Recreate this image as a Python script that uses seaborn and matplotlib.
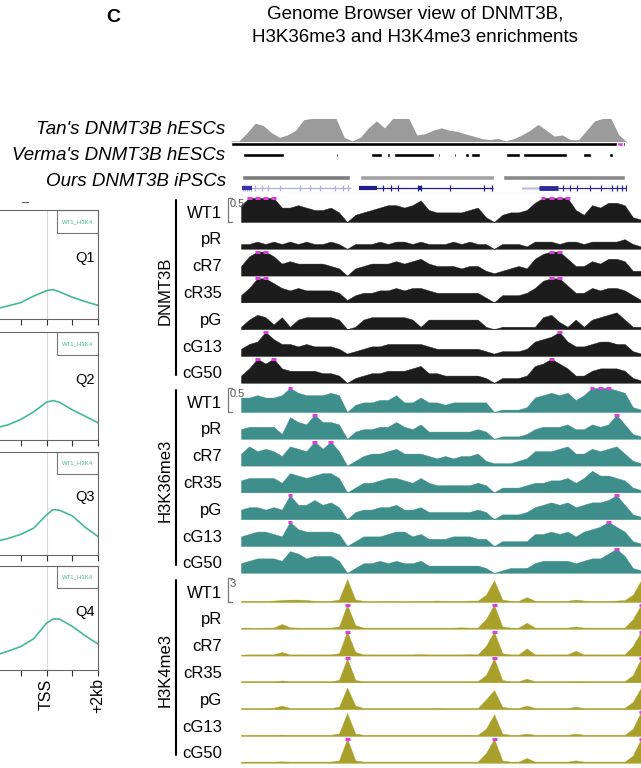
import numpy as np
import pandas as pd
import seaborn as sns
import matplotlib.pyplot as plt
from matplotlib.lines import Line2D
from matplotlib.patches import Rectangle

# ---------------- data ----------------
# left panel: WT1 H3K4me3 profile around TSS, per quartile
BP = [-2000, -1500, -1000, -500, 0, 250, 500, 1000, 1500, 2000]
Q1 = [0.09, 0.12, 0.15, 0.21, 0.26, 0.27, 0.25, 0.20, 0.16, 0.125]
Q2 = [0.11, 0.14, 0.19, 0.26, 0.35, 0.365, 0.35, 0.28, 0.22, 0.16]
Q3 = [0.13, 0.16, 0.20, 0.26, 0.39, 0.44, 0.435, 0.38, 0.27, 0.18]
Q4 = [0.14, 0.18, 0.225, 0.30, 0.45, 0.49, 0.49, 0.42, 0.33, 0.25]
QUARTILES = ["Q1", "Q2", "Q3", "Q4"]

# browser tracks, 50 bins across the locus, height in tenths of the scale max
DNMT3B_WT1 = [7,10,10,10,10,6,6,7,6,5, 5,6,4,0,3,4,5,6,7,7, 6,7,9,5,4,4,4,4,5,6, 2,0,3,4,4,5,8,10,10,10, 10,5,3,7,6,8,8,7,2,1]
DNMT3B_pR = [2,2,3,2,3,2,3,2,3,2, 2,3,2,0,2,2,2,3,2,3, 3,2,3,2,2,2,3,2,3,2, 2,0,2,2,2,1,3,3,3,2, 3,3,2,3,3,3,3,4,2,1]
DNMT3B_cR7 = [4,8,10,10,8,5,6,5,5,5, 5,4,3,0,3,4,5,5,5,6, 5,6,7,5,4,4,4,3,4,4, 2,1,2,3,4,3,7,9,10,10, 7,4,4,6,5,7,7,6,2,2]
DNMT3B_cR35 = [3,6,10,10,8,6,5,6,5,5, 5,5,4,1,3,4,4,5,5,6, 5,6,6,5,4,4,4,4,4,4, 2,0,3,3,3,4,6,9,10,10, 7,4,4,6,5,6,6,5,3,1]
DNMT3B_pG = [1,4,6,5,2,5,1,4,5,5, 5,5,4,0,1,4,5,5,5,5, 5,4,1,4,4,4,4,4,4,4, 1,0,1,1,1,1,1,5,6,3, 1,4,1,4,5,6,7,4,1,1]
DNMT3B_cG13 = [3,5,6,10,7,5,5,4,5,4, 4,4,3,1,2,3,4,4,5,5, 5,5,5,4,3,3,3,3,3,3, 2,1,2,2,2,3,6,7,8,10, 6,4,4,5,6,6,5,5,2,1]
DNMT3B_cG50 = [3,6,10,8,10,6,5,5,5,5, 4,4,3,0,2,3,4,4,5,5, 5,6,7,4,4,3,3,3,3,3, 2,0,2,2,2,3,7,8,10,8, 6,3,3,5,6,6,6,5,2,1]

H3K36_WT1 = [6,6,7,6,6,7,10,8,7,7, 7,8,7,0,3,4,4,5,5,7, 4,4,6,4,4,3,4,4,4,4, 4,0,1,1,1,2,6,7,8,7, 8,5,7,10,10,10,9,8,2,1]
H3K36_pR = [4,5,5,5,5,2,9,7,6,10, 7,7,6,0,3,4,4,5,5,7, 5,4,6,3,3,3,3,3,3,4, 3,0,1,1,1,2,4,5,5,5, 6,4,4,6,5,6,10,6,2,1]
H3K36_cR7 = [5,8,6,7,6,4,8,7,6,10, 7,10,6,0,2,4,5,5,6,7, 5,5,5,4,3,4,3,4,4,5, 2,1,1,1,2,3,6,6,6,7, 8,5,5,7,6,7,8,5,2,1]
H3K36_cR35 = [5,6,6,6,6,4,8,7,6,7, 8,8,6,0,2,4,4,5,6,6, 5,4,6,4,3,3,3,3,3,4, 3,0,2,2,2,3,4,4,5,5, 6,4,6,9,7,7,6,5,2,1]
H3K36_pG = [4,5,5,4,5,4,10,6,6,8, 6,7,5,0,3,4,4,5,5,6, 4,4,5,3,3,3,3,3,3,4, 3,0,2,2,2,3,5,6,7,6, 7,5,6,7,7,8,10,6,2,1]
H3K36_cG13 = [4,5,6,6,5,4,10,7,6,6, 6,6,5,0,2,4,4,4,5,6, 6,4,5,3,3,3,4,4,4,3, 3,0,2,2,2,2,5,5,6,5, 6,4,6,7,8,10,8,6,2,1]
H3K36_cG50 = [4,5,6,6,6,5,9,8,6,7, 7,7,5,0,2,4,4,5,4,5, 4,4,5,3,3,3,3,3,3,3, 2,0,1,2,2,2,4,5,5,5, 5,4,5,6,6,8,10,7,2,1]

H3K4_WT1 = [.5,.5,.5,.5,.6,.8,1,1,.8,.5, .5,.5,1,9.5,1,.5,.4,.5,.5,.5, .4,.5,.5,.5,.6,.5,.5,.5,.6,.6, 3,9,1,.5,.5,2,.5,.5,.5,.5, .5,1,.6,.5,.5,.5,.6,.8,3,9]
H3K4_pR = [.5,.5,.4,.5,.5,2,.6,.5,.5,.5, .5,.5,1,10,1.5,.5,.5,.5,.5,.5, .5,.5,.5,.5,.5,.5,.5,.6,.5,.5, 4,10,1,.5,.5,2.5,.5,.5,.5,.5, .5,1,.5,.5,.5,.5,.5,.5,4,10]
H3K4_cR7 = [.4,.5,.5,.5,.5,1.5,.5,.5,.5,.5, .5,.5,1,10,1.5,.5,.5,.5,.5,.5, .5,.5,.6,.5,.5,.5,.5,.5,.6,.5, 4,10,1,.5,.5,3,.5,.5,.5,.5, .5,2,.5,.5,.5,.5,.5,.5,4,10]
H3K4_cR35 = [.5,.5,.5,.5,.5,.8,.5,.5,.5,.5, .5,.5,1,10,1,.5,.5,.5,.5,.5, .5,.5,.5,.5,.5,.5,.5,.5,.5,.5, 3,10,1,.5,.5,1.5,.5,.5,.5,.5, .5,.6,.5,.5,.5,.5,.5,.5,3,10]
H3K4_pG = [.5,.5,.5,.5,.6,1.5,.5,.5,.5,.5, .5,.5,1,9,1.5,.5,.5,.5,.5,.5, .5,.5,.5,.5,.6,.5,.5,.5,.5,.5, 4,8,1,.5,.5,1.5,.5,.5,.5,.5, .5,1,.5,.5,.5,.5,.5,.6,3,9]
H3K4_cG13 = [.5,.5,.5,.5,.5,.6,.5,.5,.5,.5, .5,.5,1,9.5,1,.5,.5,.5,.5,.5, .5,.5,.5,.5,.5,.5,.5,.5,.5,.5, 3,9,1,.5,.5,1,.5,.5,.5,.5, .5,1,.5,.5,.5,.5,.5,.5,3,10]
H3K4_cG50 = [.5,.5,.5,.5,.5,.6,.5,.5,.5,.5, .5,.5,1,10,1,.5,.5,.5,.5,.5, .5,.5,.5,.5,.5,.5,.5,.5,.5,.5, 4,10,1,.5,.5,2,.5,.5,.5,.5, .5,1,.5,.5,.5,.5,.5,.5,3,10]

SAMPLES = ["WT1", "pR", "cR7", "cR35", "pG", "cG13", "cG50"]
GROUPS = ["DNMT3B", "H3K36me3", "H3K4me3"]
SCALES = ["0.5", "0.5", "3"]

# reference annotation tracks (coordinates in 50-bin units of the upper browser)
TAN = [0.5,0.5,4,8,7,4,2,3,5,9.5, 10,10,10,10,2,0.5,2,6,9,6, 10,10,10,3,3.5,5,6,5,4.5,3.5,
       2.5,1.5,1,1.5,0.5,1.5,3,5,7.5,5, 2.5,3,1,1,5,9,10,10,3,0]
VERMA_START = [1.5, 13.0, 17.3, 19.3, 20.2, 25.6, 27.6, 29.0, 29.7, 34.0, 36.1, 43.6, 46.8]
VERMA_END = [6.6, 13.25, 18.7, 19.7, 25.1, 25.9, 27.85, 29.5, 30.8, 35.8, 41.6, 44.6, 47.3]
OURS_START = [1.4, 16.0, 33.7]
OURS_END = [14.7, 32.6, 48.8]
GENE_START = [1.4, 15.8, 36.0]
GENE_END = [14.8, 32.4, 48.9]
GENE_EXONS = [
    [1.5, 1.7, 2.0, 2.2, 2.5, 3.0, 3.8, 4.6, 6.1, 8.5, 9.8, 11.0, 12.9, 13.9, 14.5],
    [18.8, 19.8, 20.7, 23.2, 23.5, 27.1, 31.3, 32.3],
    [41.1, 42.0, 42.8, 44.4, 45.8, 47.2, 47.8, 48.4, 48.9],
]

# ---------------- style ----------------
sns.set_theme(style="white")
plt.rcParams["font.family"] = ["Liberation Sans", "DejaVu Sans"]
plt.rcParams["text.color"] = "black"
plt.rcParams["xtick.color"] = "black"

W, H = 641, 768
BLACK = "#1c1c1c"
TEAL = "#3e8e8c"
OLIVE = "#a9a02c"
GREEN = "#45b898"
MAGENTA = "#e03ce0"
TRACK_COLORS = [BLACK, TEAL, OLIVE]
BASE_COLORS = ["#c9c9c9", "#a9cfcd", "#d6d3a0"]

fig = plt.figure(figsize=(W / 100, H / 100), dpi=100)


def fx(px):
    return px / W


def fy(py):
    return 1 - py / H


def px_axes(x0, y0, x1, y1):
    return fig.add_axes([x0 / W, 1 - y1 / H, (x1 - x0) / W, (y1 - y0) / H])


# ---------------- titles ----------------
fig.text(fx(113), fy(17), "C", fontsize=14, fontweight="bold", ha="center", va="center")
fig.text(fx(415), fy(14), "Genome Browser view of DNMT3B,", fontsize=13.5, ha="center", va="center")
fig.text(fx(415), fy(38), "H3K36me3 and H3K4me3 enrichments", fontsize=13.5, ha="center", va="center")

# ---------------- left: TSS profiles ----------------
prof = pd.DataFrame({
    "bp": BP * 4,
    "signal": Q1 + Q2 + Q3 + Q4,
    "quartile": [q for q in QUARTILES for _ in BP],
})
panel_box = [(210, 319), (332, 440), (452, 555), (566, 670)]
for k, q in enumerate(QUARTILES):
    top, bot = panel_box[k]
    ax = px_axes(-5, top, 98, bot)
    sns.lineplot(data=prof[prof["quartile"] == q], x="bp", y="signal",
                 color=GREEN, lw=1.2, ax=ax, legend=False)
    ax.axvline(0, color="#d9d9d9", lw=0.8, zorder=0)
    ax.set_xlim(-2000, 2000)
    ax.set_ylim(0, 1)
    ax.set_xlabel("")
    ax.set_ylabel("")
    ax.set_yticks([])
    ax.set_xticks([-2000, -1000, 0, 1000, 2000])
    if k == 3:
        ax.set_xticklabels(["-2kb", "", "TSS", "", "+2kb"], rotation=90, fontsize=11.5)
    else:
        ax.set_xticklabels([])
    ax.tick_params(axis="x", direction="out", length=4, width=0.8, color="#333333", pad=2, bottom=True)
    for s in ax.spines.values():
        s.set_color("#666666")
        s.set_linewidth(0.8)
    ax.add_patch(Rectangle((0.6, 0.79), 0.4, 0.21, transform=ax.transAxes,
                           fill=False, ec="#777777", lw=0.8))
    ax.text(0.8, 0.895, "WT1_H3K4", transform=ax.transAxes, fontsize=4.3,
            color=GREEN, ha="center", va="center")
    ax.text(0.87, 0.56, q, transform=ax.transAxes, fontsize=10.5, ha="center", va="center")

fig.text(fx(25), fy(203), "–", fontsize=9, color="#444444", ha="center", va="center")

# ---------------- annotation tracks ----------------
fig.text(fx(225), fy(130), "Tan's DNMT3B hESCs", fontsize=13.5, style="italic", ha="right", va="center")
fig.text(fx(225), fy(155), "Verma's DNMT3B hESCs", fontsize=13.5, style="italic", ha="right", va="center")
fig.text(fx(226), fy(181), "Ours DNMT3B iPSCs", fontsize=13.5, style="italic", ha="right", va="center")

xa = np.arange(len(TAN))
tan_ax = px_axes(231, 118, 627, 142)
tan_ax.fill_between(xa, 0, np.array(TAN) / 10, color="#9b9b9b", lw=0)
tan_ax.set_xlim(0, 49)
tan_ax.set_ylim(0, 1.02)
tan_ax.axis("off")

bar_ax = px_axes(231, 142, 627, 146)
bar_ax.broken_barh([(0, 48.8)], (0, 1), facecolors="black")
bar_ax.broken_barh([(47.8, 0.7)], (0, 1), facecolors=MAGENTA)
bar_ax.set_xlim(0, 49)
bar_ax.set_ylim(0, 1)
bar_ax.axis("off")

verma_ax = px_axes(231, 152.5, 627, 157)
verma_ax.broken_barh([(s, e - s) for s, e in zip(VERMA_START, VERMA_END)], (0, 1), facecolors="black")
verma_ax.set_xlim(0, 49)
verma_ax.set_ylim(0, 1)
verma_ax.axis("off")

ours_ax = px_axes(231, 175, 627, 179.5)
ours_ax.broken_barh([(s, e - s) for s, e in zip(OURS_START, OURS_END)], (0, 1),
                    facecolors=["#7d7d7d", "#a3a3a3", "#8a8a8a"])
ours_ax.set_xlim(0, 49)
ours_ax.set_ylim(0, 1)
ours_ax.axis("off")

gene_ax = px_axes(231, 183, 627, 193)
gene_ax.set_xlim(0, 49)
gene_ax.set_ylim(-1, 1)
gene_ax.axis("off")
gene_ax.hlines(-0.95, 1.4, 48.8, color="#d0d0d0", lw=0.8)
gene_cols = ["#aeaee2", "#1f1f8c", "#2b2b9c"]
for g in range(3):
    gene_ax.hlines(0, GENE_START[g], GENE_END[g], color=gene_cols[g], lw=0.9)
    gene_ax.vlines(GENE_EXONS[g], -0.55, 0.55, color=gene_cols[g], lw=0.9)
gene_ax.hlines(0, 1.4, 2.6, color="#3535a5", lw=3)
gene_ax.hlines(0, GENE_START[1], 18.1, color="#1f1f8c", lw=3)
gene_ax.hlines(0, 23.1, 23.6, color="#1f1f8c", lw=3)
gene_ax.hlines(0, GENE_START[2], 38.1, color="#b8b8e6", lw=1.0)
gene_ax.hlines(0, 38.1, 40.5, color="#2b2b9c", lw=3.5)

# ---------------- signal tracks ----------------
TRACKS = [
    [DNMT3B_WT1, DNMT3B_pR, DNMT3B_cR7, DNMT3B_cR35, DNMT3B_pG, DNMT3B_cG13, DNMT3B_cG50],
    [H3K36_WT1, H3K36_pR, H3K36_cR7, H3K36_cR35, H3K36_pG, H3K36_cG13, H3K36_cG50],
    [H3K4_WT1, H3K4_pR, H3K4_cR7, H3K4_cR35, H3K4_pG, H3K4_cG13, H3K4_cG50],
]
ROW_STEP = 26.8
for g, group in enumerate(GROUPS):
    first_base = 222 + 190 * g
    for r, sample in enumerate(SAMPLES):
        base = first_base + ROW_STEP * r
        vals = np.array(TRACKS[g][r], dtype=float) / 10
        x = np.arange(len(vals))
        ax = px_axes(241, base - 25, 641, base)
        ax.fill_between(x, 0, vals, color=TRACK_COLORS[g], lw=0.3, ec=TRACK_COLORS[g])
        ax.axhline(0, color=BASE_COLORS[g], lw=1.0, zorder=0)
        clip = x[vals >= 1.0]
        if len(clip):
            ax.hlines(np.full(len(clip), 1.0), clip - 0.3, clip + 0.3, color=MAGENTA, lw=2.2)
        ax.set_xlim(0, len(vals) - 1)
        ax.set_ylim(0, 1.04)
        ax.axis("off")
        fig.text(fx(222), fy(base - 9), sample, fontsize=12, ha="right", va="center")
    # scale bracket on the first row
    top = first_base - 24
    fig.add_artist(Line2D([fx(232), fx(228), fx(228), fx(232)],
                          [fy(top), fy(top), fy(first_base), fy(first_base)],
                          color="#777777", lw=0.9))
    fig.text(fx(230), fy(top + 1), SCALES[g], fontsize=8, color="#555555", ha="left", va="top")
    # group label and bar
    last_base = first_base + ROW_STEP * 6
    fig.add_artist(Line2D([fx(176), fx(176)], [fy(first_base - 22), fy(last_base - 8)],
                          color="black", lw=1.5))
    fig.text(fx(165), fy((first_base - 24 + last_base) / 2), group, fontsize=12,
             rotation=90, ha="center", va="center")

fig.savefig("out.png", dpi=100)
